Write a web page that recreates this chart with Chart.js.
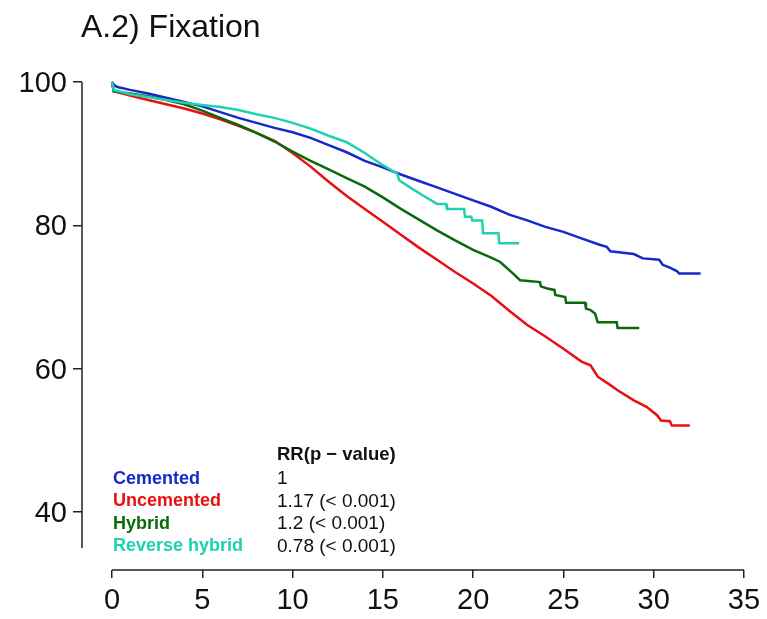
<!DOCTYPE html>
<html>
<head>
<meta charset="utf-8">
<title>A.2) Fixation</title>
<script src="https://cdn.jsdelivr.net/npm/chart.js@4.4.1/dist/chart.umd.min.js"></script>
<style>
  html, body { margin: 0; padding: 0; background: #fff; }
  #wrap { width: 767px; height: 619px; }
</style>
</head>
<body>
<div id="wrap"><canvas id="fixationChart" width="767" height="619"></canvas></div>
<script>
// Chart text
const TITLE = "A.2) Fixation";
const TABLE_HEADER = "RR(p \u2212 value)";

// Axis ticks
const X_TICKS = [0, 5, 10, 15, 20, 25, 30, 35];
const Y_TICKS = [40, 60, 80, 100];

// Series (years, % survival); repeated times mark visible steps
const cementedTime = [0, 0.1, 0.3, 1, 2, 3, 4, 5, 6, 7, 8, 9, 10, 11, 12, 13, 14, 15, 16, 17, 18, 19, 20, 21, 22, 23, 24, 25, 26, 27, 27.4, 27.6, 28.9, 29.4, 30.3, 30.5, 30.9, 31.3, 31.4, 32.6];
const cementedSurv = [100, 99.6, 99.3, 98.9, 98.4, 97.8, 97.2, 96.6, 95.8, 95.0, 94.3, 93.6, 93.0, 92.2, 91.2, 90.2, 89.0, 88.1, 87.1, 86.2, 85.3, 84.4, 83.5, 82.6, 81.5, 80.7, 79.8, 79.1, 78.2, 77.3, 77.0, 76.4, 76.0, 75.4, 75.2, 74.5, 74.1, 73.6, 73.3, 73.3];

const uncementedTime = [0, 0.1, 1, 2, 3, 4, 5, 6, 7, 8, 9, 10, 11, 12, 13, 14, 15, 16, 17, 18, 19, 20, 21, 22, 23, 24, 25, 26, 26.5, 26.9, 27.5, 28, 28.9, 29.6, 30.2, 30.4, 30.9, 31.0, 32.0];
const uncementedSurv = [100, 98.7, 98.1, 97.5, 96.9, 96.3, 95.6, 94.8, 93.9, 92.9, 91.8, 90.1, 88.2, 86.1, 84.1, 82.3, 80.5, 78.7, 76.9, 75.2, 73.5, 71.9, 70.2, 68.1, 66.1, 64.5, 62.8, 61.0, 60.5, 58.9, 57.9, 57.0, 55.6, 54.7, 53.5, 52.8, 52.7, 52.1, 52.1];

const hybridTime = [0, 0.1, 1, 2, 3, 4, 5, 6, 7, 8, 9, 10, 11, 12, 13, 14, 15, 16, 17, 18, 19, 20, 21, 21.5, 22.2, 22.6, 23.7, 23.75, 24.1, 24.5, 24.55, 25.1, 25.15, 26.2, 26.25, 26.5, 26.75, 26.9, 27.95, 28.0, 29.2];
const hybridSurv = [100, 98.7, 98.4, 98.0, 97.5, 96.9, 96.0, 95.0, 94.0, 92.9, 91.7, 90.3, 89.0, 87.8, 86.6, 85.4, 83.9, 82.3, 80.8, 79.3, 77.9, 76.6, 75.5, 74.9, 73.3, 72.35, 72.1, 71.5, 71.2, 71.0, 70.3, 70.0, 69.2, 69.2, 68.4, 68.2, 67.7, 66.5, 66.5, 65.7, 65.7];

const reverseTime = [0, 0.1, 1, 2, 3, 4, 5, 6, 7, 8, 9, 10, 11, 12, 13, 14, 15, 15.8, 15.9, 16.5, 17.2, 18.0, 18.5, 18.55, 19.5, 19.55, 19.9, 19.95, 20.5, 20.55, 21.4, 21.45, 22.55];
const reverseSurv = [100, 98.9, 98.3, 97.9, 97.5, 97.1, 96.8, 96.5, 96.1, 95.5, 95.0, 94.3, 93.5, 92.5, 91.6, 90.1, 88.4, 87.2, 86.3, 85.3, 84.2, 83.0, 83.0, 82.3, 82.3, 81.2, 81.2, 80.7, 80.7, 78.9, 78.9, 77.5, 77.5];

// Legend / RR table
const groupLabels = ["Cemented", "Uncemented", "Hybrid", "Reverse hybrid"];
const rrLabels = ["1", "1.17 (< 0.001)", "1.2 (< 0.001)", "0.78 (< 0.001)"];

const COLORS = {
  cemented: "#1428cc",
  uncemented: "#ea0f0f",
  hybrid: "#0a6a0a",
  reverse: "#1ed2ae",
};
const GROUP_COLORS = [COLORS.cemented, COLORS.uncemented, COLORS.hybrid, COLORS.reverse];

const FONT = "'Liberation Sans', Arial, Helvetica, sans-serif";

const toPoints = (times, values) => times.map((t, i) => ({ x: t, y: values[i] }));

const createCurveDataset = (label, times, values, color) => ({
  label,
  data: toPoints(times, values),
  borderColor: color,
  backgroundColor: color,
  borderWidth: 2.5,
  tension: 0,
  pointRadius: 0,
  fill: false,
  clip: false,
});

// R-style detached axes, title and RR table
const decorations = {
  id: "decorations",
  afterDraw(chart) {
    const { ctx, chartArea, scales: { x, y } } = chart;
    ctx.save();

    // axis lines
    ctx.strokeStyle = "#222";
    ctx.lineWidth = 1.5;
    ctx.beginPath();
    ctx.moveTo(x.getPixelForValue(X_TICKS[0]), chartArea.bottom);
    ctx.lineTo(x.getPixelForValue(X_TICKS[X_TICKS.length - 1]), chartArea.bottom);
    ctx.moveTo(chartArea.left, y.getPixelForValue(100));
    ctx.lineTo(chartArea.left, y.getPixelForValue(35));
    ctx.stroke();

    // title
    ctx.fillStyle = "#111";
    ctx.font = `32px ${FONT}`;
    ctx.textAlign = "left";
    ctx.textBaseline = "alphabetic";
    ctx.fillText(TITLE, 81, 37);

    // table
    const leftCol = 113;
    const rightCol = 277;
    ctx.textBaseline = "middle";
    ctx.font = `bold 18.5px ${FONT}`;
    ctx.fillStyle = "#111";
    ctx.fillText(TABLE_HEADER, rightCol, 455);
    groupLabels.forEach((label, i) => {
      const rowY = 479 + i * 22.5;
      ctx.font = `bold 18px ${FONT}`;
      ctx.fillStyle = GROUP_COLORS[i];
      ctx.fillText(label, leftCol, rowY);
      ctx.font = `19px ${FONT}`;
      ctx.fillStyle = "#111";
      ctx.fillText(rrLabels[i], rightCol, rowY);
    });

    ctx.restore();
  },
};

const ctx = document.getElementById("fixationChart").getContext("2d");

new Chart(ctx, {
  type: "line",
  data: {
    datasets: [
      createCurveDataset("Reverse hybrid", reverseTime, reverseSurv, COLORS.reverse),
      createCurveDataset("Cemented", cementedTime, cementedSurv, COLORS.cemented),
      createCurveDataset("Hybrid", hybridTime, hybridSurv, COLORS.hybrid),
      createCurveDataset("Uncemented", uncementedTime, uncementedSurv, COLORS.uncemented),
    ],
  },
  options: {
    responsive: false,
    animation: false,
    layout: { padding: { top: 82, right: 23, left: 0, bottom: 0 } },
    plugins: {
      legend: { display: false },
      tooltip: { enabled: false },
    },
    scales: {
      x: {
        type: "linear",
        min: -1.66,
        max: 35,
        afterFit: (scale) => { scale.height = 49; },
        afterBuildTicks: (scale) => { scale.ticks = X_TICKS.map((v) => ({ value: v })); },
        grid: {
          drawOnChartArea: false,
          drawTicks: true,
          tickLength: 8,
          color: "#222",
          lineWidth: 1.5,
        },
        border: { display: false },
        ticks: {
          color: "#111",
          padding: 6,
          maxRotation: 0,
          autoSkip: false,
          font: { family: FONT, size: 29 },
        },
      },
      y: {
        type: "linear",
        min: 31.94,
        max: 100,
        afterFit: (scale) => { scale.width = 82; },
        afterBuildTicks: (scale) => { scale.ticks = Y_TICKS.map((v) => ({ value: v })); },
        grid: {
          drawOnChartArea: false,
          drawTicks: true,
          tickLength: 9,
          color: "#222",
          lineWidth: 1.5,
        },
        border: { display: false },
        ticks: {
          color: "#111",
          padding: 6,
          labelOffset: 2,
          autoSkip: false,
          font: { family: FONT, size: 29 },
        },
      },
    },
  },
  plugins: [decorations],
});
</script>
</body>
</html>
